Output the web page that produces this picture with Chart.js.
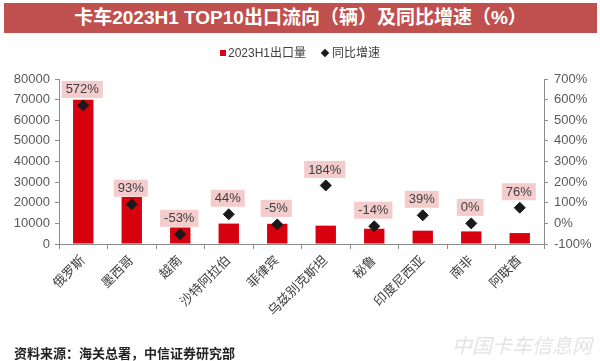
<!DOCTYPE html>
<html>
<head>
<meta charset="utf-8">
<script src="https://cdn.jsdelivr.net/npm/chart.js@4/dist/chart.umd.min.js"></script>
<style>
    body { margin: 0; background: #fff; font-family: Arial, "Liberation Sans", "Noto Sans CJK SC", sans-serif; }
    #wrap { position: relative; width: 600px; height: 361px; overflow: hidden; }
    #title {
        position: absolute; left: 4px; top: 3px; width: 593px; height: 30px;
        background: #C0504D; color: #fff; font-weight: bold; font-size: 19px;
        line-height: 30px; text-align: center;
    }
    #legend {
        position: absolute; left: 0; top: 45px; width: 600px; text-align: center;
        font-size: 12px; color: #404040; line-height: 16px;
    }
    #legend .sq { display: inline-block; width: 6px; height: 6px; background: #D7000F; margin-right: 2px; vertical-align: 1px; }
    #legend .dm { display: inline-block; width: 6px; height: 6px; background: #1A1A1A; transform: rotate(45deg); margin: 0 4px 0 16px; vertical-align: 1px; }
    #source { position: absolute; left: 14px; top: 343px; font-size: 13px; font-weight: bold; color: #222; }
    #mark { position: absolute; left: 452px; top: 330px; font-size: 20px; font-style: italic; color: rgba(200,200,200,0.5); }
    canvas { position: absolute; left: 0; top: 0; }
</style>
</head>
<body>
<div id="wrap">
    <canvas id="chart" width="600" height="361"></canvas>
    <div id="title">卡车2023H1 TOP10出口流向（辆）及同比增速（%）</div>
    <div id="legend"><span class="sq"></span>2023H1出口量<span class="dm"></span>同比增速</div>
    <div id="mark">中国卡车信息网</div>
    <div id="source">资料来源：海关总署，中信证券研究部</div>
</div>
<script>
// ── Data ──────────────────────────────────────────────────────────────────────
const countries = ["俄罗斯", "墨西哥", "越南", "沙特阿拉伯", "菲律宾", "乌兹别克斯坦", "秘鲁", "印度尼西亚", "南非", "阿联酋"];
const exportVolume = [70000, 22800, 8000, 9900, 9800, 8900, 7400, 6450, 6100, 5300];
const yoyGrowth = [572, 93, -53, 44, -5, 184, -14, 39, 0, 76];

const volumeTicks = { min: 0, max: 80000, step: 10000 };
const growthTicks = { min: -100, max: 700, step: 100 };

const axisColor = "#8C8C8C";
const tickFont = { family: "Arial, 'Liberation Sans', 'Noto Sans CJK SC'", size: 13 };

// ── Label boxes above the diamonds ────────────────────────────────────────────
const growthLabels = {
    id: "growthLabels",
    afterDatasetsDraw(chart) {
        const meta = chart.getDatasetMeta(1);
        const ctx = chart.ctx;
        ctx.save();
        ctx.font = "13px Arial, 'Liberation Sans'";
        ctx.textAlign = "center";
        ctx.textBaseline = "middle";
        meta.data.forEach((pt, i) => {
            const text = yoyGrowth[i] + "%";
            const w = ctx.measureText(text).width + 8;
            const cy = pt.y - 16;
            ctx.fillStyle = "#F4CCCC";
            ctx.fillRect(pt.x - w / 2 - 1, cy - 8.5, w, 17);
            ctx.fillStyle = "#404040";
            ctx.fillText(text, pt.x - 1, cy + 0.5);
        });
        ctx.restore();
    }
};

// ── Chart ─────────────────────────────────────────────────────────────────────
new Chart(document.getElementById("chart"), {
    data: {
        labels: countries,
        datasets: [
            {
                type: "bar",
                label: "2023H1出口量",
                data: exportVolume,
                backgroundColor: "#D7000F",
                yAxisID: "y",
                categoryPercentage: 1,
                barPercentage: 0.42,
                order: 1
            },
            {
                type: "line",
                label: "同比增速",
                data: yoyGrowth,
                yAxisID: "y1",
                showLine: false,
                pointStyle: "rectRot",
                pointRadius: 5.5,
                pointBackgroundColor: "#1A1A1A",
                pointBorderColor: "#1A1A1A",
                order: 0
            }
        ]
    },
    options: {
        responsive: false,
        animation: false,
        layout: { padding: { top: 79, left: 0, right: 0, bottom: 0 } },
        plugins: {
            legend: { display: false },
            tooltip: { enabled: false }
        },
        scales: {
            x: {
                grid: { display: true, drawOnChartArea: false, drawTicks: true, tickLength: 5, color: axisColor, offset: true },
                border: { color: axisColor },
                ticks: { color: "#404040", font: tickFont, minRotation: 45, maxRotation: 45, padding: 4, autoSkip: false },
                afterFit: scale => { scale.height = 117; }
            },
            y: {
                position: "left",
                min: volumeTicks.min,
                max: volumeTicks.max,
                grid: { drawOnChartArea: false, drawTicks: true, tickLength: 4, color: axisColor },
                border: { color: axisColor },
                ticks: { stepSize: volumeTicks.step, color: "#595959", font: tickFont, padding: 5, callback: v => String(v) },
                afterFit: scale => { scale.width = 59; }
            },
            y1: {
                position: "right",
                min: growthTicks.min,
                max: growthTicks.max,
                grid: { drawOnChartArea: false, drawTicks: true, tickLength: 4, color: axisColor },
                border: { color: axisColor },
                ticks: { stepSize: growthTicks.step, color: "#595959", font: tickFont, padding: 6, callback: v => v + "%" },
                afterFit: scale => { scale.width = 56; }
            }
        }
    },
    plugins: [growthLabels]
});
</script>
</body>
</html>
